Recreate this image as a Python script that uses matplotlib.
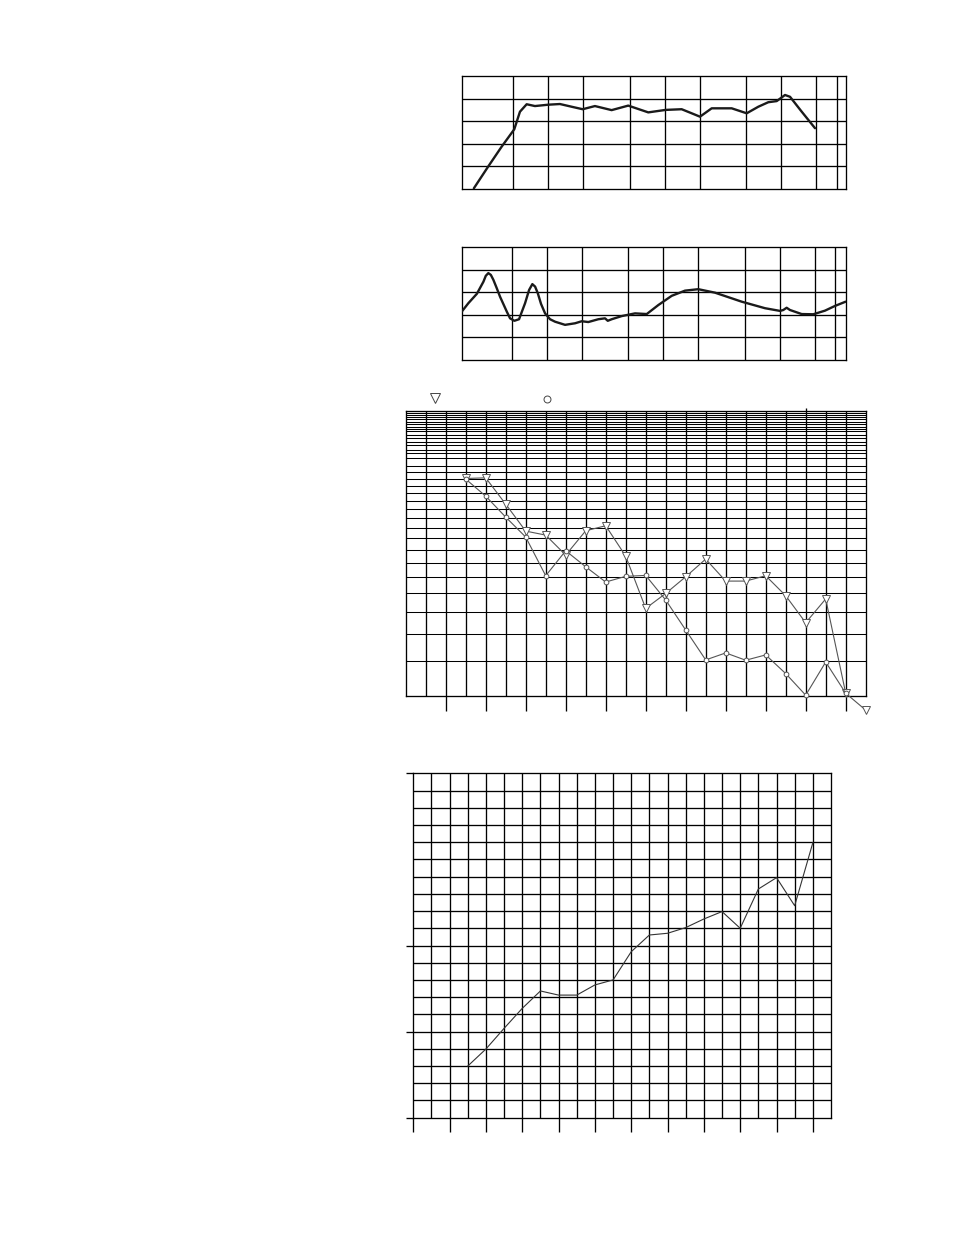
import matplotlib
matplotlib.use("Agg")
import matplotlib.pyplot as plt

# ---- panel 1: frequency response (Hz, dB) ----
freq_resp_f = [23.0, 30.5, 39.8, 51.1, 57.2, 65.3, 76.9, 100, 126, 158.8, 197.4,
               251.7, 350, 486, 722, 1018, 1396, 1702, 2005, 2527, 3752, 5047,
               6347, 7733, 9131, 10760, 11880, 14970, 19470]
freq_resp_db = [50.3, 59.9, 68.7, 76.4, 84.2, 87.5, 86.7, 87.3, 87.6, 86.4, 85.3,
                86.7, 84.9, 86.9, 83.9, 85.0, 85.3, 83.5, 82.0, 85.7, 85.7, 83.5,
                86.4, 88.4, 88.9, 91.6, 90.8, 84.2, 76.9]

# ---- panel 2: second curve ----
curve2_f = [18.6, 21.2, 25.1, 28.6, 29.95, 31.5, 33.1, 34.8, 37.2, 39.7, 45.4, 48.4,
            52.7, 57.8, 65.1, 70.5, 75.2, 79.4, 83.7, 89.3, 96.7, 106.7, 117.8,
            143.6, 175, 199.7, 227.5, 277.3, 316.5, 334, 361.4,
            440.4, 572.8, 721.9, 907.8, 1183, 1538, 2000, 2784, 4718, 7478, 10060,
            10740, 11480, 12260, 15450, 19430, 24480, 29830, 36860]
curve2_v = [21.25, 25.0, 29.2, 34.6, 37.2, 38.4, 37.6, 35.4, 31.7, 27.9, 21.25, 18.3,
            17.2, 17.9, 25.0, 30.9, 33.5, 32.4, 29.5, 24.7, 20.5, 17.9, 16.8,
            15.4, 16.1, 17.0, 16.65, 17.9, 18.3, 17.2, 17.9,
            19.3, 20.5, 20.2, 24.2, 28.3, 30.6, 31.25, 29.7, 25.7, 22.8, 21.6,
            22.0, 23.0, 22.0, 20.2, 20.1, 21.7, 23.8, 25.7]

freq_grid = [50, 100, 200, 500, 1000, 2000, 5000, 10000, 20000, 30000]

# ---- panel 3: two band series (log scale) ----
tri_band = list(range(3, 24))
tri_vals = [18.04, 18.14, 14.6, 11.69, 11.31, 9.59, 11.72, 12.22, 9.51, 6.18, 6.99,
            8.02, 9.28, 7.74, 7.74, 8.09, 6.86, 5.49, 6.68, 3.07, 2.67]
circ_band = list(range(3, 23))
circ_vals = [17.95, 15.6, 13.12, 11.13, 8.09, 9.94, 8.71, 7.68, 8.05, 8.11, 6.62,
             5.17, 4.04, 4.28, 4.03, 4.21, 3.61, 3.02, 3.97, 3.07]
band_grid_y = [4, 5, 6, 7, 8, 9, 10, 11, 12, 13, 14, 15, 16, 17, 18, 19, 20,
               21.3, 22.2, 22.9, 23.7, 24.4, 25.1, 25.9, 26.7, 27.2, 27.7, 28.3,
               28.8, 29.4, 29.9, 30.4, 30.9]

# ---- panel 4: rising series ----
rise_band = list(range(3, 23))
rise_vals = [3.0, 3.99, 5.19, 6.35, 7.36, 7.12, 7.12, 7.71, 8.0, 9.64, 10.61, 10.71,
             11.04, 11.54, 11.97, 11.0, 13.28, 13.94, 12.31, 15.97]

W, H = 954, 1235
fig = plt.figure(figsize=(W / 100, H / 100), dpi=100)


def rect(l, r, t, b):
    return [l / W, 1 - b / H, (r - l) / W, (b - t) / H]


LW = 0.95


def frame(ax):
    for s in ax.spines.values():
        s.set_linewidth(LW)
        s.set_color("black")


def freq_panel(ax, f, v, xlim, ylim, ygrid):
    ax.set_xscale("log")
    ax.set_xlim(*xlim)
    ax.set_ylim(*ylim)
    for g in freq_grid:
        ax.axvline(g, color="black", lw=LW, zorder=1)
    for g in ygrid:
        ax.axhline(g, color="black", lw=LW, zorder=1)
    ax.plot(f, v, color="#1a1a1a", lw=1.7, solid_joinstyle="round",
            solid_capstyle="round", zorder=3)
    ax.set_xticks([])
    ax.set_yticks([])
    ax.minorticks_off()
    frame(ax)


ax1 = fig.add_axes(rect(462, 846, 76, 189))
freq_panel(ax1, freq_resp_f, freq_resp_db, (18.2, 35900), (50, 100), [60, 70, 80, 90])

ax2 = fig.add_axes(rect(461.7, 845.7, 247, 359.5))
freq_panel(ax2, curve2_f, curve2_v, (18.6, 36900), (0, 50), [10, 20, 30, 40])

# panel 3
ax3 = fig.add_axes(rect(405.7, 865.7, 411.3, 696))
ax3.set_yscale("log")
ax3.set_xlim(0, 23)
ax3.set_ylim(3, 31.4)
for i in range(1, 23):
    ax3.axvline(i, color="black", lw=LW, zorder=1)
for g in band_grid_y:
    ax3.axhline(g, color="black", lw=0.75, zorder=1)
ax3.plot(tri_band, tri_vals, color="#555555", lw=0.8, marker="v", ms=5.2,
         mfc="white", mec="#555555", mew=0.7, clip_on=False, zorder=4)
ax3.plot(circ_band, circ_vals, color="#555555", lw=0.8, marker="o", ms=3.4,
         mfc="white", mec="#555555", mew=0.7, clip_on=False, zorder=4)
ax3.plot([0.063], [1.046], transform=ax3.transAxes, marker="v", ms=6.5,
         mfc="white", mec="#444444", mew=0.7, clip_on=False, ls="none")
ax3.plot([0.3065], [1.043], transform=ax3.transAxes, marker="o", ms=5.0,
         mfc="white", mec="#444444", mew=0.7, clip_on=False, ls="none")
ax3.minorticks_off()
ax3.set_xticks(range(2, 23, 2))
ax3.set_yticks([])
ax3.tick_params(axis="x", length=11, width=LW, direction="out",
                labelbottom=False, top=False)
sec = ax3.secondary_xaxis("top")
sec.set_xticks([20])
sec.tick_params(length=2.5, width=LW, direction="out", labeltop=False)
sec.spines["top"].set_visible(False)
frame(ax3)

# panel 4
ax4 = fig.add_axes(rect(413.3, 831, 773.3, 1117.7))
ax4.set_xlim(0, 23)
ax4.set_ylim(0, 20)
for i in range(1, 23):
    ax4.axvline(i, color="black", lw=LW, zorder=1)
for j in range(1, 20):
    ax4.axhline(j, color="black", lw=LW, zorder=1)
ax4.plot(rise_band, rise_vals, color="#333333", lw=0.8, zorder=3)
ax4.set_xticks(range(0, 23, 2))
ax4.set_yticks([0, 5, 10, 20])
ax4.tick_params(axis="x", length=10, width=LW, direction="out", labelbottom=False)
ax4.tick_params(axis="y", length=5, width=LW, direction="out", labelleft=False)
frame(ax4)

fig.savefig("out.png", dpi=100, facecolor="white")
